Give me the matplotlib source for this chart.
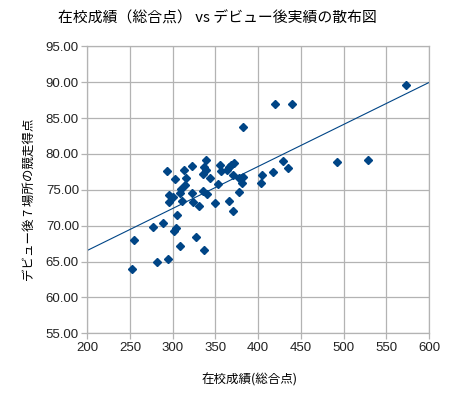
import numpy as np
import matplotlib
matplotlib.use("Agg")
import matplotlib.pyplot as plt

# 在校成績(総合点) と デビュー後7場所の競走得点
school_score = [339, 293, 313, 322, 303, 316, 337, 339, 335, 344,
                355, 356, 363, 366, 372, 368, 370, 378, 382, 381,
                405, 403, 417, 353, 314, 310, 296, 300, 296, 308,
                311, 322, 324, 335, 340, 331, 349, 366, 377, 370,
                305, 289, 277, 304, 302, 255, 327, 308, 336, 282,
                294, 252, 382, 420, 440, 573, 429, 435, 492, 528]
race_points = [79.2, 77.6, 77.7, 78.3, 76.5, 76.6, 78.2, 77.8, 77.2, 76.7,
               78.4, 77.6, 77.8, 78.2, 78.7, 78.5, 77.1, 76.7, 76.8, 76.0,
               77.1, 76.0, 77.5, 75.8, 75.7, 75.1, 74.3, 74.0, 73.3, 74.6,
               73.5, 74.6, 73.3, 74.8, 74.4, 72.8, 73.2, 73.5, 74.7, 72.1,
               71.5, 70.4, 69.8, 69.7, 69.2, 68.0, 68.4, 67.2, 66.6, 64.9,
               65.3, 63.9, 83.7, 86.9, 86.9, 89.6, 79.0, 78.1, 78.9, 79.1]

x_ticks = [200, 250, 300, 350, 400, 450, 500, 550, 600]
y_ticks = [55, 60, 65, 70, 75, 80, 85, 90, 95]

title = "在校成績（総合点） vs デビュー後実績の散布図"
x_label = "在校成績(総合点)"
y_label = "デビュー後 7 場所の競走得点"

jp = ["Noto Sans CJK JP", "DejaVu Sans"]
num = ["Liberation Sans", "DejaVu Sans"]
blue = "#004586"
grid_gray = "#b3b3b3"

fig = plt.figure(figsize=(4.57, 3.95), dpi=100)
ax = fig.add_axes([0.191, 0.156, 0.748, 0.727])

ax.plot(school_score, race_points, linestyle="none", marker="D",
        markersize=4.3, color=blue, zorder=3)

# 線形近似
k, b = np.polyfit(school_score, race_points, 1)
xs = np.array([x_ticks[0], x_ticks[-1]])
ax.plot(xs, k * xs + b, color=blue, linewidth=0.8, zorder=2)

ax.set_xlim(x_ticks[0], x_ticks[-1])
ax.set_ylim(y_ticks[0], y_ticks[-1])
ax.set_xticks(x_ticks)
ax.set_yticks(y_ticks)
ax.set_xticklabels([str(v) for v in x_ticks], family=num, fontsize=9.5)
ax.set_yticklabels(["%.2f" % v for v in y_ticks], family=num, fontsize=9.5)
ax.grid(True, color=grid_gray, linewidth=0.9)
ax.set_axisbelow(True)
for s in ax.spines.values():
    s.set_color(grid_gray)
    s.set_linewidth(0.9)
ax.tick_params(color=grid_gray, length=4, width=0.9, labelcolor="#222222", pad=2)

fig.text(0.475, 0.953, title, family=jp, fontsize=10.7, ha="center", va="center")
fig.text(0.545, 0.038, x_label, family=jp, fontsize=9, ha="center", va="center")
fig.text(0.065, 0.495, y_label, family=jp, fontsize=9, ha="center", va="center",
         rotation=90)

fig.savefig("out.png", dpi=100)
